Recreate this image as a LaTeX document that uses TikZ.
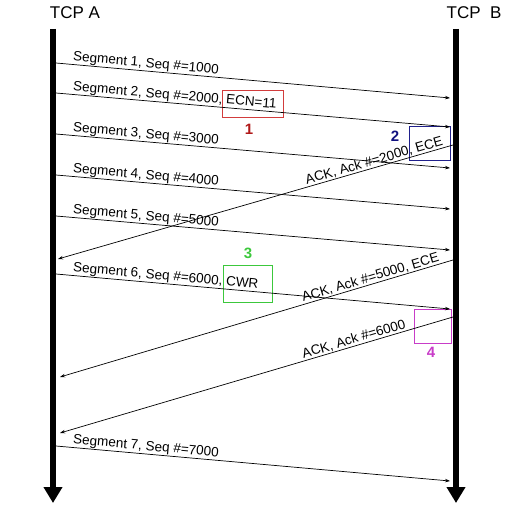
\documentclass[tikz,border=0pt]{standalone}
\usepackage{fontspec}
\setmainfont{Liberation Sans}
\usetikzlibrary{arrows.meta}
\definecolor{boxred}{HTML}{D23C3C}
\definecolor{numred}{HTML}{B01818}
\definecolor{boxblue}{HTML}{20208C}
\definecolor{numblue}{HTML}{101080}
\definecolor{boxgreen}{HTML}{3CC83C}
\definecolor{boxmag}{HTML}{C83CC8}

\tikzset{
  lifeline/.style={line width=6bp, -{Triangle[length=16bp, width=18bp]}},
  msg/.style={line width=0.7bp, -{Stealth[length=5bp, width=3.5bp]}},
  seglbl/.style={font=\fontsize{13.5bp}{15bp}\selectfont, sloped, anchor=south west, inner sep=0.5bp},
  acklbl/.style={font=\fontsize{13.5bp}{15bp}\selectfont, sloped, anchor=south east, inner sep=0.5bp},
  markbox/.style={draw=#1, line width=0.8bp, inner sep=0pt},
  num/.style={font=\fontsize{15bp}{16bp}\selectfont\bfseries, text=#1},
}

\begin{document}
\begin{tikzpicture}[x=1bp, y=-1bp]
\useasboundingbox (0,0) rectangle (509,505);

% Hosts and lifelines
\node[font=\fontsize{17bp}{19bp}\selectfont, anchor=base] (tcpa) at (75,18.5) {TCP A};
\node[font=\fontsize{17bp}{19bp}\selectfont, anchor=base] (tcpb) at (474,18.5) {TCP\ \ B};
\coordinate (atop) at (53,29);
\coordinate (abot) at (53,503);
\coordinate (btop) at (456,29);
\coordinate (bbot) at (456,503);
\draw[lifeline] (atop) -- (abot);
\draw[lifeline] (btop) -- (bbot);

% End points on the lifelines
\coordinate (a1) at (56,63);   \coordinate (b1) at (450,98);
\coordinate (a2) at (56,93);   \coordinate (b2) at (450,127);
\coordinate (a3) at (56,134);  \coordinate (b3) at (450,168);
\coordinate (a4) at (56,175);  \coordinate (b4) at (450,209);
\coordinate (a5) at (56,216);  \coordinate (b5) at (450,250);
\coordinate (a6) at (56,274);  \coordinate (b6) at (450,309);
\coordinate (a7) at (56,446);  \coordinate (b7) at (450,481);
\coordinate (bk1) at (453,145); \coordinate (ak1) at (58,259);
\coordinate (bk2) at (453,260); \coordinate (ak2) at (60,377);
\coordinate (bk3) at (453,317); \coordinate (ak3) at (60,433);

% Marked boxes (drawn first)
\node[markbox=boxred, minimum width=61bp, minimum height=27bp] (box1) at (252.5,103.5) {};
\node[markbox=boxblue, minimum width=41bp, minimum height=34bp] (box2) at (429.5,143) {};
\node[markbox=boxgreen, minimum width=49bp, minimum height=37bp] (box3) at (247.5,283.5) {};
\node[markbox=boxmag, minimum width=37bp, minimum height=34bp] (box4) at (432.5,326) {};
\node[num=numred] (n1) at (249,129) {1};
\node[num=numblue] (n2) at (395,136) {2};
\node[num=boxgreen] (n3) at (248,253) {3};
\node[num=boxmag] (n4) at (431,352.5) {4};

% Segments A -> B
\draw[msg] (a1) -- node[seglbl, pos=0.04] {Segment 1, Seq \#=1000} (b1);
\draw[msg] (a2) -- node[seglbl, pos=0.04] {Segment 2, Seq \#=2000, ECN=11} (b2);
\draw[msg] (a3) -- node[seglbl, pos=0.04] {Segment 3, Seq \#=3000} (b3);
\draw[msg] (a4) -- node[seglbl, pos=0.04] {Segment 4, Seq \#=4000} (b4);
\draw[msg] (a5) -- node[seglbl, pos=0.04] {Segment 5, Seq \#=5000} (b5);
\draw[msg] (a6) -- node[seglbl, pos=0.04] {Segment 6, Seq \#=6000, CWR} (b6);
\draw[msg] (a7) -- node[seglbl, pos=0.04] {Segment 7, Seq \#=7000} (b7);

% ACKs B -> A
\draw[msg] (bk1) -- node[acklbl, pos=0.02] {ACK, Ack \#=2000, ECE} (ak1);
\draw[msg] (bk2) -- node[acklbl, pos=0.03] {ACK, Ack \#=5000, ECE} (ak2);
\draw[msg] (bk3) -- node[acklbl, pos=0.115] {ACK, Ack \#=6000} (ak3);

\end{tikzpicture}
\end{document}
